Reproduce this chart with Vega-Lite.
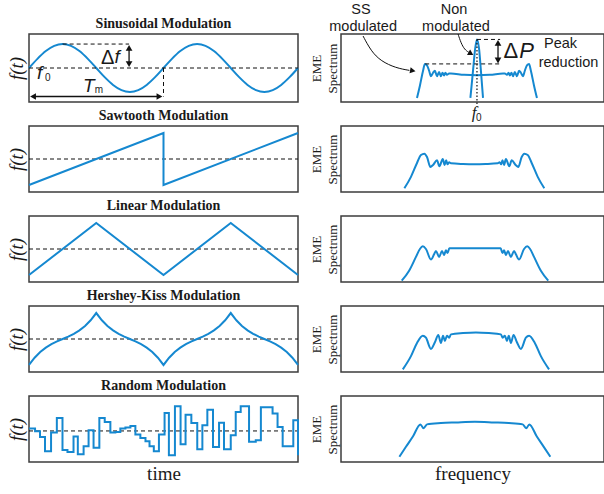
{
  "$schema": "https://vega.github.io/schema/vega-lite/v6.json",
  "padding": {"left": 6, "top": 0, "right": 0, "bottom": 4},
  "background": "white",
  "config": {
    "view": {"stroke": "#3c3c3c", "strokeWidth": 1.5},
    "axis": {"grid": false, "labels": false, "ticks": false, "domain": false, "titleFont": "Liberation Serif", "titleFontWeight": "normal", "titleColor": "#1a1a1a"},
    "title": {"font": "Liberation Serif", "fontSize": 14, "fontWeight": "bold", "color": "#1a1a1a", "offset": 3},
    "line": {"color": "#1588d0", "strokeWidth": 2},
    "text": {"font": "Liberation Sans", "color": "#1a1a1a"}
  },
  "columns": 2,
  "bounds": "flush",
  "spacing": {"row": 24, "column": 43},
  "concat": [
    {
      "width": 269, "height": 68,
      "title": {"text": "Sinusoidal Modulation", "font": "Liberation Serif", "fontSize": 14, "fontWeight": "bold"},
      "encoding": {
        "x": {"field": "t", "type": "quantitative", "scale": {"domain": [0, 2]}, "axis": null},
        "y": {"field": "v", "type": "quantitative", "scale": {"domain": [-1.42, 1.42]}, "axis": {"title": "f(t)", "titleFontStyle": "italic", "titleFontSize": 19, "titlePadding": 3}}
      },
      "layer": [
        {"data": {"values": [
          {"t": 0, "v": 0}, {"t": 0.0625, "v": 0.383}, {"t": 0.125, "v": 0.707}, {"t": 0.1875, "v": 0.924}, {"t": 0.25, "v": 1}, {"t": 0.3125, "v": 0.924}, {"t": 0.375, "v": 0.707}, {"t": 0.4375, "v": 0.383},
          {"t": 0.5, "v": 0}, {"t": 0.5625, "v": -0.383}, {"t": 0.625, "v": -0.707}, {"t": 0.6875, "v": -0.924}, {"t": 0.75, "v": -1}, {"t": 0.8125, "v": -0.924}, {"t": 0.875, "v": -0.707}, {"t": 0.9375, "v": -0.383},
          {"t": 1, "v": 0}, {"t": 1.0625, "v": 0.383}, {"t": 1.125, "v": 0.707}, {"t": 1.1875, "v": 0.924}, {"t": 1.25, "v": 1}, {"t": 1.3125, "v": 0.924}, {"t": 1.375, "v": 0.707}, {"t": 1.4375, "v": 0.383},
          {"t": 1.5, "v": 0}, {"t": 1.5625, "v": -0.383}, {"t": 1.625, "v": -0.707}, {"t": 1.6875, "v": -0.924}, {"t": 1.75, "v": -1}, {"t": 1.8125, "v": -0.924}, {"t": 1.875, "v": -0.707}, {"t": 1.9375, "v": -0.383}, {"t": 2, "v": 0}
        ]}, "mark": {"type": "line", "interpolate": "monotone"}},
        {"data": {"values": [{"t": 0, "t2": 2, "v": 0, "v2": 0}, {"t": 0.25, "t2": 0.744, "v": 1, "v2": 1}, {"t": 1, "t2": 1, "v": 0, "v2": -1.19}]},
         "mark": {"type": "rule", "color": "#111", "strokeWidth": 1, "strokeDash": [4, 3]},
         "encoding": {"x2": {"field": "t2"}, "y2": {"field": "v2"}}},
        {"data": {"values": [{"t": 0.744, "t2": 0.744, "v": 0.15, "v2": 0.85}, {"t": 0.03, "t2": 0.97, "v": -1.19, "v2": -1.19}]},
         "mark": {"type": "rule", "color": "#111", "strokeWidth": 1.3},
         "encoding": {"x2": {"field": "t2"}, "y2": {"field": "v2"}}},
        {"data": {"values": [{"t": 0.744, "v": 0.84}]}, "mark": {"type": "point", "shape": "triangle-up", "filled": true, "color": "#111", "size": 45, "opacity": 1}},
        {"data": {"values": [{"t": 0.744, "v": 0.16}]}, "mark": {"type": "point", "shape": "triangle-down", "filled": true, "color": "#111", "size": 45, "opacity": 1}},
        {"data": {"values": [{"t": 0.03, "v": -1.19}]}, "mark": {"type": "point", "shape": "triangle-left", "filled": true, "color": "#111", "size": 45, "opacity": 1}},
        {"data": {"values": [{"t": 0.97, "v": -1.19}]}, "mark": {"type": "point", "shape": "triangle-right", "filled": true, "color": "#111", "size": 45, "opacity": 1}},
        {"data": {"values": [{"t": 0.585, "v": 0.42, "s": "Δ"}]}, "mark": {"type": "text", "fontSize": 20}, "encoding": {"text": {"field": "s"}}},
        {"data": {"values": [{"t": 0.655, "v": 0.45, "s": "f"}, {"t": 0.08, "v": -0.2, "s": "f"}, {"t": 0.445, "v": -0.76, "s": "T"}]}, "mark": {"type": "text", "fontSize": 19, "fontStyle": "italic"}, "encoding": {"text": {"field": "s"}}},
        {"data": {"values": [{"t": 0.14, "v": -0.41, "s": "0"}, {"t": 0.52, "v": -0.92, "s": "m"}]}, "mark": {"type": "text", "fontSize": 10}, "encoding": {"text": {"field": "s"}}}
      ]
    },
    {
      "width": 263, "height": 68,
      "encoding": {
        "x": {"field": "f", "type": "quantitative", "scale": {"domain": [0, 100]}, "axis": null},
        "y": {"field": "v", "type": "quantitative", "scale": {"domain": [0, 100]}, "axis": {"title": ["EME", "Spectrum"], "titleFontSize": 13, "titlePadding": 2, "titleLineHeight": 16}}
      },
      "layer": [
        {"data": {"values": [
          {"f": 28.9, "v": 6}, {"f": 30.0, "v": 24}, {"f": 31.2, "v": 46}, {"f": 31.9, "v": 56}, {"f": 32.7, "v": 54}, {"f": 33.5, "v": 46}, {"f": 34.2, "v": 38}, {"f": 35.0, "v": 43}, {"f": 35.7, "v": 46}, {"f": 36.5, "v": 38}, {"f": 37.3, "v": 44}, {"f": 38.0, "v": 38}, {"f": 38.6, "v": 43}, {"f": 39.2, "v": 39}, {"f": 39.7, "v": 43}, {"f": 40.3, "v": 40}, {"f": 41.1, "v": 42}, {"f": 41.8, "v": 42}, {"f": 46.8, "v": 40}, {"f": 51.7, "v": 39.5},
          {"f": 56.6, "v": 40}, {"f": 61.6, "v": 42}, {"f": 62.3, "v": 42}, {"f": 63.1, "v": 40}, {"f": 63.7, "v": 43}, {"f": 64.2, "v": 39}, {"f": 64.8, "v": 43}, {"f": 65.4, "v": 38}, {"f": 66.1, "v": 44}, {"f": 66.9, "v": 38}, {"f": 67.7, "v": 46}, {"f": 68.4, "v": 43}, {"f": 69.2, "v": 38}, {"f": 69.9, "v": 46}, {"f": 70.7, "v": 54}, {"f": 71.5, "v": 56}, {"f": 72.2, "v": 46}, {"f": 73.4, "v": 24}, {"f": 74.5, "v": 6}
        ]}, "mark": {"type": "line", "interpolate": "monotone"}},
        {"data": {"values": [{"f": 49.2, "v": 6}, {"f": 50.2, "v": 46}, {"f": 51.0, "v": 78}, {"f": 51.7, "v": 92}, {"f": 52.5, "v": 78}, {"f": 53.2, "v": 46}, {"f": 54.0, "v": 6}]},
         "mark": {"type": "line", "interpolate": "monotone"}},
        {"data": {"values": [{"f": 51.7, "f2": 51.7, "v": 92, "v2": -7}]},
         "mark": {"type": "rule", "color": "#111", "strokeWidth": 1.2, "strokeDash": [1.5, 2]},
         "encoding": {"x2": {"field": "f2"}, "y2": {"field": "v2"}}},
        {"data": {"values": [{"f": 51.7, "f2": 60.5, "v": 92, "v2": 92}, {"f": 32, "f2": 60.5, "v": 56, "v2": 56}]},
         "mark": {"type": "rule", "color": "#111", "strokeWidth": 1, "strokeDash": [4, 3]},
         "encoding": {"x2": {"field": "f2"}, "y2": {"field": "v2"}}},
        {"data": {"values": [{"f": 59.7, "f2": 59.7, "v": 60, "v2": 88}]},
         "mark": {"type": "rule", "color": "#111", "strokeWidth": 1.3},
         "encoding": {"x2": {"field": "f2"}, "y2": {"field": "v2"}}},
        {"data": {"values": [{"f": 59.7, "v": 87}]}, "mark": {"type": "point", "shape": "triangle-up", "filled": true, "color": "#111", "size": 45, "opacity": 1}},
        {"data": {"values": [{"f": 59.7, "v": 61}]}, "mark": {"type": "point", "shape": "triangle-down", "filled": true, "color": "#111", "size": 45, "opacity": 1}},
        {"data": {"values": [{"f": 8.4, "v": 97}, {"f": 11.4, "v": 75}, {"f": 15.2, "v": 60}, {"f": 20.9, "v": 50}, {"f": 26.0, "v": 46.5}]},
         "mark": {"type": "line", "interpolate": "basis", "color": "#111", "strokeWidth": 1}},
        {"data": {"values": [{"f": 44.5, "v": 100}, {"f": 45.6, "v": 87}, {"f": 47.0, "v": 77}, {"f": 48.6, "v": 73}]},
         "mark": {"type": "line", "interpolate": "basis", "color": "#111", "strokeWidth": 1}},
        {"data": {"values": [{"f": 27.3, "v": 46}]}, "mark": {"type": "point", "shape": "triangle-right", "angle": 10, "filled": true, "color": "#111", "size": 40, "opacity": 1}},
        {"data": {"values": [{"f": 49.4, "v": 71}]}, "mark": {"type": "point", "shape": "triangle-right", "angle": 30, "filled": true, "color": "#111", "size": 40, "opacity": 1}},
        {"data": {"values": [{"f": 7.6, "v": 136, "s": "SS"}, {"f": 8.4, "v": 111, "s": "modulated"}, {"f": 43, "v": 135, "s": "Non"}, {"f": 43.7, "v": 111, "s": "modulated"}, {"f": 83.5, "v": 85, "s": "Peak"}, {"f": 86.5, "v": 57, "s": "reduction"}]},
         "mark": {"type": "text", "fontSize": 14.5}, "encoding": {"text": {"field": "s"}}},
        {"data": {"values": [{"f": 64.6, "v": 75, "s": "Δ"}]}, "mark": {"type": "text", "fontSize": 22}, "encoding": {"text": {"field": "s"}}},
        {"data": {"values": [{"f": 70.6, "v": 75, "s": "P"}]}, "mark": {"type": "text", "fontSize": 22, "fontStyle": "italic"}, "encoding": {"text": {"field": "s"}}},
        {"data": {"values": [{"f": 50.6, "v": -16, "s": "f"}]}, "mark": {"type": "text", "fontSize": 17, "fontStyle": "italic", "font": "Liberation Serif"}, "encoding": {"text": {"field": "s"}}},
        {"data": {"values": [{"f": 52.4, "v": -24, "s": "0"}]}, "mark": {"type": "text", "fontSize": 10}, "encoding": {"text": {"field": "s"}}}
      ]
    },
    {
      "width": 269, "height": 66,
      "title": {"text": "Sawtooth Modulation", "font": "Liberation Serif", "fontSize": 14, "fontWeight": "bold"},
      "encoding": {
        "x": {"field": "t", "type": "quantitative", "scale": {"domain": [0, 2]}, "axis": null},
        "y": {"field": "v", "type": "quantitative", "scale": {"domain": [-1.27, 1.27]}, "axis": {"title": "f(t)", "titleFontStyle": "italic", "titleFontSize": 19, "titlePadding": 3}}
      },
      "layer": [
        {"data": {"values": [{"t": 0, "t2": 2, "v": 0, "v2": 0}]}, "mark": {"type": "rule", "color": "#111", "strokeWidth": 1, "strokeDash": [4, 3]}, "encoding": {"x2": {"field": "t2"}, "y2": {"field": "v2"}}},
        {"data": {"values": [{"i": 0, "t": 0, "v": -1}, {"i": 1, "t": 1, "v": 1}, {"i": 2, "t": 1, "v": -1}, {"i": 3, "t": 2, "v": 1}]},
         "mark": {"type": "line"}, "encoding": {"order": {"field": "i", "type": "quantitative"}}}
      ]
    },
    {
      "width": 263, "height": 66,
      "encoding": {
        "x": {"field": "f", "type": "quantitative", "scale": {"domain": [0, 100]}, "axis": null},
        "y": {"field": "v", "type": "quantitative", "scale": {"domain": [0, 100]}, "axis": {"title": ["EME", "Spectrum"], "titleFontSize": 13, "titlePadding": 2, "titleLineHeight": 16}}
      },
      "layer": [
        {"data": {"values": [
          {"f": 24.1, "v": 5.6}, {"f": 26.6, "v": 23}, {"f": 28.9, "v": 44}, {"f": 30.4, "v": 56}, {"f": 31.7, "v": 58}, {"f": 32.7, "v": 53}, {"f": 34.0, "v": 38}, {"f": 35.0, "v": 41}, {"f": 36.5, "v": 48}, {"f": 37.4, "v": 39}, {"f": 38.7, "v": 50}, {"f": 39.4, "v": 41}, {"f": 40.0, "v": 48}, {"f": 40.5, "v": 42}, {"f": 41.1, "v": 45}, {"f": 41.8, "v": 43.5}, {"f": 46.4, "v": 42.4}, {"f": 50.7, "v": 42},
          {"f": 55.0, "v": 42.4}, {"f": 59.6, "v": 43.5}, {"f": 60.3, "v": 45}, {"f": 60.9, "v": 42}, {"f": 61.4, "v": 48}, {"f": 62.0, "v": 41}, {"f": 62.7, "v": 50}, {"f": 64.0, "v": 39}, {"f": 64.9, "v": 48}, {"f": 66.4, "v": 41}, {"f": 67.4, "v": 38}, {"f": 68.7, "v": 53}, {"f": 69.7, "v": 58}, {"f": 71.0, "v": 56}, {"f": 72.5, "v": 44}, {"f": 74.8, "v": 23}, {"f": 77.3, "v": 5.6}
        ]}, "mark": {"type": "line", "interpolate": "monotone"}}
      ]
    },
    {
      "width": 269, "height": 66,
      "title": {"text": "Linear Modulation", "font": "Liberation Serif", "fontSize": 14, "fontWeight": "bold"},
      "encoding": {
        "x": {"field": "t", "type": "quantitative", "scale": {"domain": [0, 2]}, "axis": null},
        "y": {"field": "v", "type": "quantitative", "scale": {"domain": [-1.27, 1.27]}, "axis": {"title": "f(t)", "titleFontStyle": "italic", "titleFontSize": 19, "titlePadding": 3}}
      },
      "layer": [
        {"data": {"values": [{"t": 0, "t2": 2, "v": 0, "v2": 0}]}, "mark": {"type": "rule", "color": "#111", "strokeWidth": 1, "strokeDash": [4, 3]}, "encoding": {"x2": {"field": "t2"}, "y2": {"field": "v2"}}},
        {"data": {"values": [{"t": 0, "v": -1}, {"t": 0.5, "v": 1}, {"t": 1, "v": -1}, {"t": 1.5, "v": 1}, {"t": 2, "v": -1}]}, "mark": {"type": "line"}}
      ]
    },
    {
      "width": 263, "height": 66,
      "encoding": {
        "x": {"field": "f", "type": "quantitative", "scale": {"domain": [0, 100]}, "axis": null},
        "y": {"field": "v", "type": "quantitative", "scale": {"domain": [0, 100]}, "axis": {"title": ["EME", "Spectrum"], "titleFontSize": 13, "titlePadding": 2, "titleLineHeight": 16}}
      },
      "layer": [
        {"data": {"values": [
          {"f": 23.1, "v": 2}, {"f": 25.9, "v": 17}, {"f": 28.5, "v": 38}, {"f": 30.0, "v": 50}, {"f": 31.1, "v": 54}, {"f": 32.3, "v": 50}, {"f": 34.2, "v": 34}, {"f": 35.4, "v": 42}, {"f": 36.1, "v": 47}, {"f": 37.3, "v": 38}, {"f": 38.4, "v": 47}, {"f": 39.2, "v": 41}, {"f": 39.9, "v": 48}, {"f": 40.5, "v": 44}, {"f": 41.2, "v": 51}, {"f": 45.6, "v": 51}, {"f": 50.95, "v": 51},
          {"f": 56.3, "v": 51}, {"f": 60.7, "v": 51}, {"f": 61.4, "v": 44}, {"f": 62.0, "v": 48}, {"f": 62.7, "v": 41}, {"f": 63.5, "v": 47}, {"f": 64.6, "v": 38}, {"f": 65.8, "v": 47}, {"f": 66.5, "v": 42}, {"f": 67.7, "v": 34}, {"f": 69.6, "v": 50}, {"f": 70.8, "v": 54}, {"f": 71.9, "v": 50}, {"f": 73.4, "v": 38}, {"f": 76.0, "v": 17}, {"f": 78.8, "v": 2}
        ]}, "mark": {"type": "line", "interpolate": "monotone"}}
      ]
    },
    {
      "width": 269, "height": 66,
      "title": {"text": "Hershey-Kiss Modulation", "font": "Liberation Serif", "fontSize": 14, "fontWeight": "bold"},
      "encoding": {
        "x": {"field": "t", "type": "quantitative", "scale": {"domain": [0, 2]}, "axis": null},
        "y": {"field": "v", "type": "quantitative", "scale": {"domain": [-1.27, 1.27]}, "axis": {"title": "f(t)", "titleFontStyle": "italic", "titleFontSize": 19, "titlePadding": 3}}
      },
      "layer": [
        {"data": {"values": [{"t": 0, "t2": 2, "v": 0, "v2": 0}]}, "mark": {"type": "rule", "color": "#111", "strokeWidth": 1, "strokeDash": [4, 3]}, "encoding": {"x2": {"field": "t2"}, "y2": {"field": "v2"}}},
        {"data": {"values": [
          {"t": 0, "v": -1}, {"t": 0.0417, "v": -0.719}, {"t": 0.0833, "v": -0.5}, {"t": 0.125, "v": -0.331}, {"t": 0.1667, "v": -0.2}, {"t": 0.2083, "v": -0.094}, {"t": 0.25, "v": 0}, {"t": 0.2917, "v": 0.094}, {"t": 0.3333, "v": 0.2}, {"t": 0.375, "v": 0.331}, {"t": 0.4167, "v": 0.5}, {"t": 0.4583, "v": 0.719},
          {"t": 0.5, "v": 1}, {"t": 0.5417, "v": 0.719}, {"t": 0.5833, "v": 0.5}, {"t": 0.625, "v": 0.331}, {"t": 0.6667, "v": 0.2}, {"t": 0.7083, "v": 0.094}, {"t": 0.75, "v": 0}, {"t": 0.7917, "v": -0.094}, {"t": 0.8333, "v": -0.2}, {"t": 0.875, "v": -0.331}, {"t": 0.9167, "v": -0.5}, {"t": 0.9583, "v": -0.719},
          {"t": 1, "v": -1}, {"t": 1.0417, "v": -0.719}, {"t": 1.0833, "v": -0.5}, {"t": 1.125, "v": -0.331}, {"t": 1.1667, "v": -0.2}, {"t": 1.2083, "v": -0.094}, {"t": 1.25, "v": 0}, {"t": 1.2917, "v": 0.094}, {"t": 1.3333, "v": 0.2}, {"t": 1.375, "v": 0.331}, {"t": 1.4167, "v": 0.5}, {"t": 1.4583, "v": 0.719},
          {"t": 1.5, "v": 1}, {"t": 1.5417, "v": 0.719}, {"t": 1.5833, "v": 0.5}, {"t": 1.625, "v": 0.331}, {"t": 1.6667, "v": 0.2}, {"t": 1.7083, "v": 0.094}, {"t": 1.75, "v": 0}, {"t": 1.7917, "v": -0.094}, {"t": 1.8333, "v": -0.2}, {"t": 1.875, "v": -0.331}, {"t": 1.9167, "v": -0.5}, {"t": 1.9583, "v": -0.719}, {"t": 2, "v": -1}
        ]}, "mark": {"type": "line"}}
      ]
    },
    {
      "width": 263, "height": 66,
      "encoding": {
        "x": {"field": "f", "type": "quantitative", "scale": {"domain": [0, 100]}, "axis": null},
        "y": {"field": "v", "type": "quantitative", "scale": {"domain": [0, 100]}, "axis": {"title": ["EME", "Spectrum"], "titleFontSize": 13, "titlePadding": 2, "titleLineHeight": 16}}
      },
      "layer": [
        {"data": {"values": [
          {"f": 23.5, "v": 4}, {"f": 26.6, "v": 24}, {"f": 28.9, "v": 44}, {"f": 31.1, "v": 55}, {"f": 32.3, "v": 52}, {"f": 34.2, "v": 35}, {"f": 35.7, "v": 45}, {"f": 37.0, "v": 56}, {"f": 38.0, "v": 44}, {"f": 38.8, "v": 55}, {"f": 39.5, "v": 47}, {"f": 40.3, "v": 55}, {"f": 41.1, "v": 52}, {"f": 41.8, "v": 57}, {"f": 46.4, "v": 59}, {"f": 51.3, "v": 60},
          {"f": 56.2, "v": 59}, {"f": 60.8, "v": 57}, {"f": 61.5, "v": 52}, {"f": 62.3, "v": 55}, {"f": 63.1, "v": 47}, {"f": 63.8, "v": 55}, {"f": 64.6, "v": 44}, {"f": 65.6, "v": 56}, {"f": 66.9, "v": 45}, {"f": 68.4, "v": 35}, {"f": 70.3, "v": 52}, {"f": 71.5, "v": 55}, {"f": 73.7, "v": 44}, {"f": 76.0, "v": 24}, {"f": 79.1, "v": 4}
        ]}, "mark": {"type": "line", "interpolate": "monotone"}}
      ]
    },
    {
      "width": 269, "height": 66,
      "title": {"text": "Random Modulation", "font": "Liberation Serif", "fontSize": 14, "fontWeight": "bold"},
      "encoding": {
        "x": {"field": "t", "type": "quantitative", "scale": {"domain": [0, 2]}, "axis": {"title": "time", "titleFontSize": 19, "titlePadding": 2}},
        "y": {"field": "v", "type": "quantitative", "scale": {"domain": [-1.2, 1.35]}, "axis": {"title": "f(t)", "titleFontStyle": "italic", "titleFontSize": 19, "titlePadding": 3}}
      },
      "layer": [
        {"data": {"values": [{"t": 0, "t2": 2, "v": 0, "v2": 0}]}, "mark": {"type": "rule", "color": "#111", "strokeWidth": 1, "strokeDash": [4, 3]}, "encoding": {"x2": {"field": "t2"}, "y2": {"field": "v2"}}},
        {"data": {"values": [
          {"t": 0, "v": 0.09}, {"t": 0.045, "v": -0.01}, {"t": 0.082, "v": -0.23}, {"t": 0.119, "v": -0.78}, {"t": 0.164, "v": -0.06}, {"t": 0.207, "v": 0.5}, {"t": 0.249, "v": -0.74}, {"t": 0.286, "v": -0.81}, {"t": 0.331, "v": -0.21}, {"t": 0.363, "v": -0.9},
          {"t": 0.406, "v": -0.59}, {"t": 0.443, "v": 0.03}, {"t": 0.48, "v": -0.65}, {"t": 0.523, "v": 0.5}, {"t": 0.563, "v": 0.35}, {"t": 0.605, "v": -0.06}, {"t": 0.642, "v": -0.04}, {"t": 0.679, "v": 0.09}, {"t": 0.717, "v": 0.13}, {"t": 0.754, "v": 0.19},
          {"t": 0.791, "v": -0.14}, {"t": 0.828, "v": -0.27}, {"t": 0.866, "v": -0.4}, {"t": 0.896, "v": -0.59}, {"t": 0.928, "v": -0.78}, {"t": 0.966, "v": -0.14}, {"t": 1.008, "v": 0.69}, {"t": 1.04, "v": -0.94}, {"t": 1.085, "v": 0.95}, {"t": 1.127, "v": -0.51},
          {"t": 1.164, "v": 0.63}, {"t": 1.207, "v": 0.31}, {"t": 1.251, "v": -0.71}, {"t": 1.289, "v": 0.22}, {"t": 1.326, "v": 0.82}, {"t": 1.368, "v": -0.62}, {"t": 1.413, "v": 0.32}, {"t": 1.45, "v": -0.71}, {"t": 1.5, "v": -0.17}, {"t": 1.537, "v": 0.73},
          {"t": 1.574, "v": 0.95}, {"t": 1.636, "v": -0.42}, {"t": 1.686, "v": -0.36}, {"t": 1.724, "v": 0.92}, {"t": 1.811, "v": 0.67}, {"t": 1.848, "v": 0.15}, {"t": 1.886, "v": -0.59}, {"t": 1.93, "v": -0.59}, {"t": 1.965, "v": 0.41}, {"t": 2.0, "v": -0.94}
        ]}, "mark": {"type": "line", "interpolate": "step-after"}}
      ]
    },
    {
      "width": 263, "height": 66,
      "encoding": {
        "x": {"field": "f", "type": "quantitative", "scale": {"domain": [0, 100]}, "axis": {"title": "frequency", "titleFontSize": 19, "titlePadding": 2}},
        "y": {"field": "v", "type": "quantitative", "scale": {"domain": [0, 100]}, "axis": {"title": ["EME", "Spectrum"], "titleFontSize": 13, "titlePadding": 2, "titleLineHeight": 16}}
      },
      "layer": [
        {"data": {"values": [
          {"f": 22.2, "v": 8}, {"f": 24.7, "v": 23}, {"f": 27.4, "v": 39}, {"f": 30.2, "v": 57}, {"f": 31.4, "v": 51}, {"f": 32.7, "v": 57}, {"f": 38.0, "v": 59}, {"f": 43.7, "v": 60}, {"f": 50.9, "v": 61},
          {"f": 58.1, "v": 60}, {"f": 63.8, "v": 59}, {"f": 69.1, "v": 57}, {"f": 70.4, "v": 51}, {"f": 71.6, "v": 57}, {"f": 74.4, "v": 39}, {"f": 77.1, "v": 23}, {"f": 79.6, "v": 8}
        ]}, "mark": {"type": "line", "interpolate": "monotone"}}
      ]
    }
  ]
}
